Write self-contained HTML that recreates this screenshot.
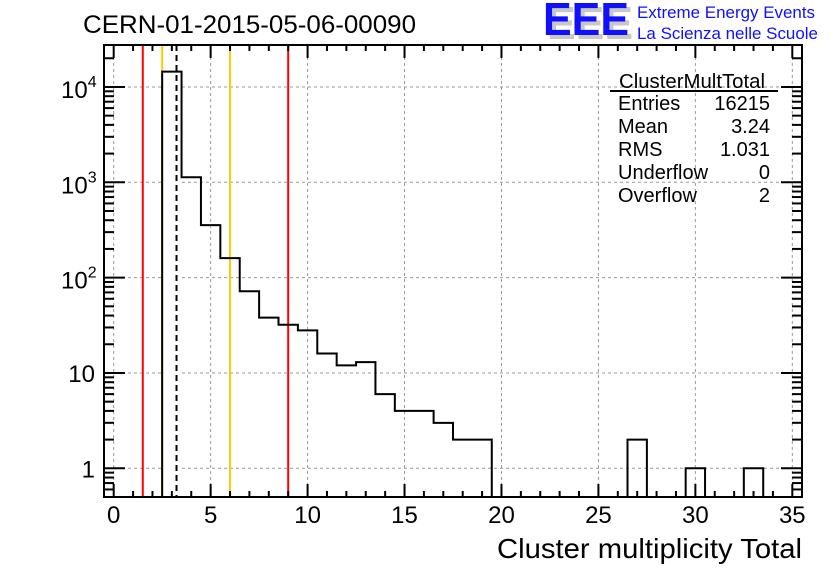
<!DOCTYPE html>
<html><head><meta charset="utf-8"><style>
body{margin:0;background:#fff;}
svg{display:block;font-family:"Liberation Sans",Arial,sans-serif;}
</style></head><body>
<svg id="c" width="836" height="572" viewBox="0 0 836 572">
<text x="83" y="33" font-size="25" textLength="333" lengthAdjust="spacingAndGlyphs">CERN-01-2015-05-06-00090</text>
<g>
<text x="547" y="39" font-size="46" font-weight="bold" fill="#c8c8c8" textLength="86" lengthAdjust="spacingAndGlyphs">EEE</text>
<text x="543" y="35" font-size="46" font-weight="bold" fill="#1010ff" textLength="86" lengthAdjust="spacingAndGlyphs">EEE</text>
<text x="637" y="18" font-size="17" fill="#1010ff" textLength="178" lengthAdjust="spacingAndGlyphs">Extreme Energy Events</text>
<text x="637" y="39" font-size="17" fill="#1010ff" textLength="181" lengthAdjust="spacingAndGlyphs">La Scienza nelle Scuole</text>
</g>
<g id="grid"></g>
<g id="marks"></g>
<g id="axes"></g>
<g font-size="20">
<text x="692" y="88" text-anchor="middle" textLength="146" lengthAdjust="spacingAndGlyphs">ClusterMultTotal</text>
<line x1="610" y1="91" x2="778" y2="91" stroke="#000" stroke-width="2"/>
<text x="618" y="110">Entries</text><text x="770" y="110" text-anchor="end">16215</text>
<text x="618" y="133">Mean</text><text x="770" y="133" text-anchor="end">3.24</text>
<text x="618" y="156">RMS</text><text x="770" y="156" text-anchor="end">1.031</text>
<text x="618" y="179">Underflow</text><text x="770" y="179" text-anchor="end">0</text>
<text x="618" y="202">Overflow</text><text x="770" y="202" text-anchor="end">2</text>
</g>
<text x="802" y="558" font-size="28" text-anchor="end" textLength="305" lengthAdjust="spacingAndGlyphs">Cluster multiplicity Total</text>
</svg>
<script>
const binCenters=[3,4,5,6,7,8,9,10,11,12,13,14,15,16,17,18,19,20,21,22,23,24,25,26,27,28,29,30,31,32,33];
const counts=[14500,1130,355,160,72,38,32,28,16,12,13,6,4,4,3,2,2,0,0,0,0,0,0,0,2,0,0,1,0,0,1];
const xTicks=[0,5,10,15,20,25,30,35];
const yDecades=[0,1,2,3,4];
const yTickLabels=["1","10","10²","10³","10⁴"];
const redLines=[1.5,9];
const yellowLines=[2.5,6];
const meanLine=[3.24];

const L=104,R=802,T=45,B=497,XMIN=-0.5,XMAX=35.5,YMINL=Math.log10(0.5),YMAXL=4.44;
const X=v=>L+(v-XMIN)/(XMAX-XMIN)*(R-L);
const Y=v=>{const l=Math.log10(Math.max(v,0.5));return B-(l-YMINL)/(YMAXL-YMINL)*(B-T);};
const NS="http://www.w3.org/2000/svg";
function mk(p,t,a){const e=document.createElementNS(NS,t);for(const k in a)e.setAttribute(k,a[k]);p.appendChild(e);return e;}
const grid=document.getElementById('grid'),marks=document.getElementById('marks'),axes=document.getElementById('axes');
xTicks.forEach(t=>{const g=mk(grid,'line',{x1:X(t),x2:X(t),y1:T,y2:B,stroke:'#999','stroke-dasharray':'3,3','stroke-width':1});

});
yDecades.forEach(d=>{const g=mk(grid,'line',{x1:L,x2:R,y1:Y(10**d),y2:Y(10**d),stroke:'#999','stroke-dasharray':'3,3','stroke-width':1});

});
function vline(v,col,dash,name){const e=mk(marks,'line',{x1:X(v),x2:X(v),y1:T,y2:B,stroke:col,'stroke-width':2});if(dash)e.setAttribute('stroke-dasharray',dash);

}
redLines.forEach(v=>vline(v,'#ff0000',null,'red-cut-line'));
yellowLines.forEach(v=>vline(v,'#ffcc00',null,'yellow-cut-line'));
let d='M'+X(binCenters[0]-0.5)+','+B;
binCenters.forEach((c,i)=>{const y=counts[i]>0?Y(counts[i]):B;d+=' L'+X(c-0.5)+','+y+' L'+X(c+0.5)+','+y;});
d+=' L'+X(binCenters[binCenters.length-1]+0.5)+','+B;
const hb=mk(marks,'path',{d:'M'+X(2.5)+','+B+' L'+X(2.5)+','+Y(counts[0])+' L'+X(3.5)+','+Y(counts[0])+' L'+X(3.5)+','+B+'Z',fill:'#fff'});


const hp=mk(marks,'path',{d:d,fill:'none',stroke:'#000','stroke-width':2});


meanLine.forEach(v=>vline(v,'#000','6,4','mean-line'));
const fr=mk(axes,'rect',{x:L,y:T,width:R-L,height:B-T,fill:'none',stroke:'#000','stroke-width':2});


for(let v=0;v<=35;v++){const maj=v%5===0,len=maj?13:6;
mk(axes,'line',{x1:X(v),x2:X(v),y1:B,y2:B-len,stroke:'#000','stroke-width':2});
mk(axes,'line',{x1:X(v),x2:X(v),y1:T,y2:T+len,stroke:'#000','stroke-width':2});}
xTicks.forEach(t=>{const e=mk(axes,'text',{x:X(t),y:523,'font-size':24,'text-anchor':'middle'});e.textContent=t;

});
for(let d=-1;d<=4;d++)for(let m=1;m<=9;m++){const v=m*10**d;const y=Y(v);if(y<T||y>B)continue;const len=m===1?21:10;
mk(axes,'line',{x1:L,x2:L+len,y1:y,y2:y,stroke:'#000','stroke-width':2});
mk(axes,'line',{x1:R,x2:R-len,y1:y,y2:y,stroke:'#000','stroke-width':2});}
yDecades.forEach((d,i)=>{const y=Y(10**d);let e;
if(d<2){e=mk(axes,'text',{x:95,y:y+9,'font-size':24,'text-anchor':'end'});e.textContent=yTickLabels[i];}
else{e=mk(axes,'text',{x:61,y:y+11,'font-size':24});e.textContent='10';const s=mk(e,'tspan',{dy:-11,'font-size':16});s.textContent=String(d);}

});
</script>
</body></html>
